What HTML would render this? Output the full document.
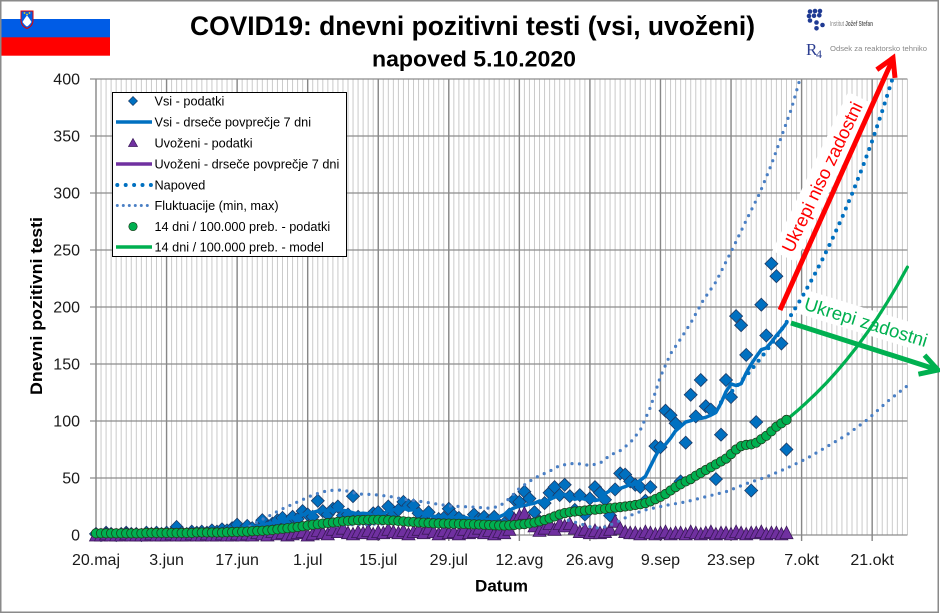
<!DOCTYPE html>
<html><head><meta charset="utf-8"><style>html,body{margin:0;padding:0;background:#fff}svg{display:block}</style></head>
<body>
<svg width="940" height="614" viewBox="0 0 940 614" xmlns="http://www.w3.org/2000/svg" font-family="'Liberation Sans', 'DejaVu Sans', sans-serif">
<defs>
<marker id="mD" markerUnits="userSpaceOnUse" markerWidth="16" markerHeight="16" refX="8" refY="8" overflow="visible"><path d="M8,1.5 L14.5,8 L8,14.5 L1.5,8Z" fill="#0070C0" stroke="#1c3a66" stroke-width="0.8"/></marker>
<marker id="mT" markerUnits="userSpaceOnUse" markerWidth="14" markerHeight="14" refX="7" refY="7" overflow="visible"><path d="M7,0.5 L13.5,13 L0.5,13Z" fill="#7030A0" stroke="#3a1858" stroke-width="0.8"/></marker>
<marker id="mC" markerUnits="userSpaceOnUse" markerWidth="12" markerHeight="12" refX="6" refY="6" overflow="visible"><circle cx="6" cy="6" r="4.7" fill="#00B050" stroke="#1f3f1f" stroke-width="0.8"/></marker>
</defs>
<rect width="940" height="614" fill="#fff"/>

<!-- flag -->
<rect x="1" y="19" width="109" height="18.5" fill="#005CE6"/>
<rect x="1" y="37.3" width="109" height="18.4" fill="#FF0000"/>
<path d="M21,11 L33,11 L33,20 Q33,26 27,28.5 Q21,26 21,20 Z" fill="#005CE6" stroke="#e00000" stroke-width="1"/>
<path d="M22.5,22 L25,18 L27,15.5 L29,18 L31.5,22 Q29,25.5 27,26.5 Q25,25.5 22.5,22Z" fill="#fff"/>
<circle cx="24.5" cy="13" r="0.9" fill="#ffd800"/><circle cx="29.5" cy="13" r="0.9" fill="#ffd800"/><circle cx="27" cy="14.5" r="0.9" fill="#ffd800"/>

<!-- border -->
<rect x="0.75" y="0.75" width="937.5" height="611.5" fill="none" stroke="#8a8a8a" stroke-width="1.5"/>

<!-- titles -->
<text x="472.5" y="35" text-anchor="middle" font-size="27" font-weight="bold" fill="#000" textLength="565" lengthAdjust="spacingAndGlyphs">COVID19: dnevni pozitivni testi (vsi, uvoženi)</text>
<text x="474" y="66.5" text-anchor="middle" font-size="22.5" font-weight="bold" fill="#000" textLength="204" lengthAdjust="spacingAndGlyphs">napoved 5.10.2020</text>

<!-- logos -->
<g fill="#1f3a93">
<circle cx="810" cy="11.5" r="2.3"/><circle cx="815" cy="11" r="2.3"/><circle cx="820" cy="11" r="2.3"/>
<circle cx="809" cy="16" r="2.3"/><circle cx="814" cy="15.7" r="2.3"/><circle cx="819.3" cy="15.3" r="2.3"/>
<circle cx="810" cy="20.5" r="2.3"/><circle cx="816.5" cy="22.5" r="2.3"/><circle cx="822.5" cy="25" r="2.3"/><circle cx="816.5" cy="28.3" r="2.3"/>
</g>
<text x="830" y="26" font-size="7" fill="#888" textLength="43" lengthAdjust="spacingAndGlyphs">Institut <tspan font-weight="bold" fill="#666">Jožef Stefan</tspan></text>
<text x="806" y="55" font-family="'Liberation Serif', serif" font-size="17" fill="#2c3e91">R</text>
<text x="816" y="58" font-family="'Liberation Serif', serif" font-size="12" fill="#2c3e91">4</text>
<text x="830" y="51" font-size="7.5" fill="#888" textLength="97" lengthAdjust="spacingAndGlyphs">Odsek za reaktorsko tehniko</text>

<!-- grid -->
<path fill="none" stroke="#cacaca" stroke-width="1" d="M101.04 79v456
m5.04-456v456m5.04-456v456m5.04-456v456m5.04-456v456m5.04-456v456m5.04-456v456m5.04-456v456m5.04-456v456m5.04-456v456m5.04-456v456
m5.04-456v456m5.04-456v456m5.04-456v456m5.04-456v456m5.04-456v456m5.04-456v456m5.04-456v456m5.04-456v456m5.04-456v456m5.04-456v456
m5.04-456v456m5.04-456v456m5.04-456v456m5.04-456v456m5.04-456v456m5.04-456v456m5.04-456v456m5.04-456v456m5.04-456v456m5.04-456v456
m5.04-456v456m5.04-456v456m5.04-456v456m5.04-456v456m5.04-456v456m5.04-456v456m5.04-456v456m5.04-456v456m5.04-456v456m5.04-456v456
m5.04-456v456m5.04-456v456m5.04-456v456m5.04-456v456m5.04-456v456m5.04-456v456m5.04-456v456m5.04-456v456m5.04-456v456m5.04-456v456
m5.04-456v456m5.04-456v456m5.04-456v456m5.04-456v456m5.04-456v456m5.04-456v456m5.04-456v456m5.04-456v456m5.04-456v456m5.04-456v456
m5.04-456v456m5.04-456v456m5.04-456v456m5.04-456v456m5.04-456v456m5.04-456v456m5.04-456v456m5.04-456v456m5.04-456v456m5.04-456v456
m5.04-456v456m5.04-456v456m5.04-456v456m5.04-456v456m5.04-456v456m5.04-456v456m5.04-456v456m5.04-456v456m5.04-456v456m5.04-456v456
m5.04-456v456m5.04-456v456m5.04-456v456m5.04-456v456m5.04-456v456m5.04-456v456m5.04-456v456m5.04-456v456m5.04-456v456m5.04-456v456
m5.04-456v456m5.04-456v456m5.04-456v456m5.04-456v456m5.04-456v456m5.04-456v456m5.04-456v456m5.04-456v456m5.04-456v456m5.04-456v456
m5.04-456v456m5.04-456v456m5.04-456v456m5.04-456v456m5.04-456v456m5.04-456v456m5.04-456v456m5.04-456v456m5.04-456v456m5.04-456v456
m5.04-456v456m5.04-456v456m5.04-456v456m5.04-456v456m5.04-456v456m5.04-456v456m5.04-456v456m5.04-456v456m5.04-456v456m5.04-456v456
m5.04-456v456m5.04-456v456m5.04-456v456m5.04-456v456m5.04-456v456m5.04-456v456m5.04-456v456m5.04-456v456m5.04-456v456m5.04-456v456
m5.04-456v456m5.04-456v456m5.04-456v456m5.04-456v456m5.04-456v456m5.04-456v456m5.04-456v456m5.04-456v456m5.04-456v456m5.04-456v456
m5.04-456v456m5.04-456v456m5.04-456v456m5.04-456v456m5.04-456v456m5.04-456v456m5.04-456v456m5.04-456v456m5.04-456v456m5.04-456v456
m5.04-456v456m5.04-456v456m5.04-456v456m5.04-456v456m5.04-456v456m5.04-456v456m5.04-456v456m5.04-456v456m5.04-456v456m5.04-456v456"/>
<path fill="none" stroke="#8c8c8c" stroke-width="1.3" d="M90 79H907.4M90 136H907.4M90 193H907.4M90 250H907.4M90 307H907.4M90 364H907.4M90 421H907.4M90 478H907.4M90 535H907.4"/>
<path fill="none" stroke="#878787" stroke-width="1.4" d="M96 79V541M166.56 79V541M237.12 79V541M307.68 79V541M378.24 79V541M448.8 79V541M519.36 79V541M589.92 79V541M660.48 79V541M731.04 79V541M801.6 79V541M872.16 79V541"/>

<!-- white text boxes -->
<rect x="-88" y="-13" width="176" height="26" fill="#fff" transform="translate(822,177) rotate(-64.5)"/>
<rect x="-70" y="-13" width="140" height="25" fill="#fff" transform="translate(866,322) rotate(17.2)"/>

<!-- Vsi podatki diamonds -->
<polyline fill="none" stroke="none" marker-start="url(#mD)" marker-mid="url(#mD)" marker-end="url(#mD)" points="96,533.9 101,535 106.1,532.7 111.1,533.9 116.2,535 121.2,533.9 126.2,532.7 131.3,533.9 136.3,533.9 141.4,535 146.4,532.7 151.4,533.9 156.5,532.7 161.5,533.9 166.6,532.7 171.6,533.9 176.6,527 181.7,532.7 186.7,533.9 191.8,531.6 196.8,532.7 201.8,531.6 206.9,532.7 211.9,530.4 217,531.6 222,529.3 227,530.4 232.1,528.2 237.1,524.7 242.2,530.4 247.2,525.9 252.2,528.2 257.3,529.3 262.3,520.2 267.4,527 272.4,523.6 277.4,520.2 282.5,517.9 287.5,523.6 292.6,516.8 297.6,519 302.6,511.1 307.7,514.5 312.7,516.8 317.8,500.8 322.8,511.1 327.8,514.5 332.9,508.8 337.9,506.5 343,515.6 348,514.5 353,496.2 358.1,516.8 363.1,519 368.2,521.3 373.2,513.3 378.2,512.2 383.3,517.9 388.3,506.5 393.4,514.5 398.4,509.9 403.4,501.9 408.5,505.4 413.5,505.4 418.6,513.3 423.6,520.2 428.6,512.2 433.7,522.5 438.7,519 443.8,517.9 448.8,508.8 453.8,515.6 458.9,517.9 463.9,521.3 469,523.6 474,514.5 479,519 484.1,516.8 489.1,521.3 494.2,516.8 499.2,524.7 504.2,523.6 509.3,514.5 514.3,499.7 519.4,501.9 524.4,491.7 529.4,498.5 534.5,512.2 539.5,521.3 544.6,503.1 549.6,492.8 554.6,487.1 559.7,495.1 564.7,484.8 569.8,496.2 574.8,509.9 579.8,495.1 584.9,514.5 589.9,498.5 595,487.1 600,492.8 605,499.7 610.1,515.6 615.1,489.4 620.2,473.4 625.2,474.6 630.2,481.4 635.3,484.8 640.3,487.1 645.4,500.8 650.4,487.1 655.4,446.1 660.5,447.2 665.5,410.7 670.6,415.3 675.6,423.3 680.6,481.4 685.7,442.7 690.7,394.8 695.8,416.4 700.8,380 705.8,406.2 710.9,409.6 715.9,479.1 721,434.7 726,380 731,397.1 736.1,316.1 741.1,325.2 746.2,354.9 751.2,490.5 756.2,422.1 761.3,304.7 766.3,335.5 771.4,263.7 776.4,276.2 781.4,343.5 786.5,449.5"/>

<!-- Vsi 7-day avg -->
<polyline fill="none" stroke="#0070C0" stroke-width="3.5" stroke-linejoin="round" stroke-linecap="round" points="96,534 101,534 106.1,534 111.1,533.9 116.2,533.9 121.2,533.7 126.2,534 131.3,533.9 136.3,533.7 141.4,533.5 146.4,533.7 151.4,533.5 156.5,533.5 161.5,532.4 166.6,532.4 171.6,532.4 176.6,532.2 181.7,532.1 186.7,531.9 191.8,531.7 196.8,532.2 201.8,532.1 206.9,531.4 211.9,531.3 217,530.6 222,529.6 227,529.3 232.1,528.6 237.1,528.2 242.2,528.2 247.2,526.7 252.2,526.5 257.3,526.4 262.3,524.9 267.4,523.8 272.4,523.1 277.4,521.3 282.5,521.2 287.5,518.9 292.6,517.6 297.6,517.1 302.6,514.6 307.7,512.9 312.7,512.5 317.8,511.1 322.8,510.4 327.8,510.6 332.9,510.2 337.9,509.6 343,510.4 348,511.1 353,512.9 358.1,513.8 363.1,513.3 368.2,513.8 373.2,515.3 378.2,515 383.3,513.7 388.3,510.9 393.4,509.8 398.4,508.8 403.4,508.1 408.5,510.1 413.5,509.8 418.6,511.5 423.6,514 428.6,515.8 433.7,516.3 438.7,516.6 443.8,516.3 448.8,517.6 453.8,517.7 458.9,517.1 463.9,517.2 469,518.4 474,519.2 479,519 484.1,519.5 489.1,519.5 494.2,519.5 499.2,516.8 504.2,514.6 509.3,510.4 514.3,507.8 519.4,506 524.4,505.7 529.4,504.1 534.5,503.1 539.5,501 544.6,501.5 549.6,499.5 554.6,497.2 559.7,495.6 564.7,494.4 569.8,497.5 574.8,499.2 579.8,498 584.9,499.2 589.9,499.7 595,500.5 600,499.7 605,493.8 610.1,490.4 615.1,489.6 620.2,488.4 625.2,486.6 630.2,484.5 635.3,484.2 640.3,480.3 645.4,476.4 650.4,466.3 655.4,456.3 660.5,447.2 665.5,444.4 670.6,438.1 675.6,430.8 680.6,426.4 685.7,422 690.7,420.7 695.8,418.7 700.8,418.4 705.8,417.3 710.9,415.1 715.9,412.4 721,403.2 726,391.7 731,383.9 736.1,385.5 741.1,383.7 746.2,373 751.2,364.2 756.2,356.7 761.3,349.7 766.3,348 771.4,342.2 776.4,335.5 781.4,329.8 786.5,323"/>

<!-- Uvozeni triangles -->
<polyline fill="none" stroke="none" marker-start="url(#mT)" marker-mid="url(#mT)" marker-end="url(#mT)" points="96,535 101,535 106.1,533.9 111.1,535 116.2,535 121.2,535 126.2,533.9 131.3,535 136.3,535 141.4,535 146.4,535 151.4,533.9 156.5,535 161.5,535 166.6,535 171.6,533.9 176.6,535 181.7,535 186.7,535 191.8,533.9 196.8,535 201.8,535 206.9,533.9 211.9,535 217,535 222,533.9 227,535 232.1,535 237.1,533.9 242.2,535 247.2,533.9 252.2,535 257.3,532.7 262.3,533.9 267.4,535 272.4,531.6 277.4,533.9 282.5,532.7 287.5,535 292.6,533.9 297.6,532.7 302.6,531.6 307.7,535 312.7,533.9 317.8,530.4 322.8,532.7 327.8,533.9 332.9,529.3 337.9,531.6 343,528.2 348,532.7 353,533.9 358.1,531.6 363.1,532.7 368.2,530.4 373.2,533.9 378.2,531.6 383.3,532.7 388.3,529.3 393.4,531.6 398.4,532.7 403.4,530.4 408.5,533.9 413.5,531.6 418.6,529.3 423.6,532.7 428.6,528.2 433.7,531.6 438.7,533.9 443.8,530.4 448.8,532.7 453.8,531.6 458.9,533.9 463.9,529.3 469,532.7 474,531.6 479,528.2 484.1,532.7 489.1,530.4 494.2,533.9 499.2,531.6 504.2,532.7 509.3,529.3 514.3,519 519.4,515.6 524.4,513.3 529.4,521.3 534.5,525.9 539.5,530.4 544.6,528.2 549.6,523.6 554.6,529.3 559.7,523.6 564.7,525.9 569.8,523.6 574.8,528.2 579.8,531.6 584.9,529.3 589.9,532.7 595,530.4 600,532.7 605,531.6 610.1,529.3 615.1,521.3 620.2,528.2 625.2,531.6 630.2,532.7 635.3,532.7 640.3,533.9 645.4,531.6 650.4,532.7 655.4,533.9 660.5,532.7 665.5,531.6 670.6,533.9 675.6,532.7 680.6,532.7 685.7,533.9 690.7,531.6 695.8,532.7 700.8,533.9 705.8,532.7 710.9,531.6 715.9,533.9 721,532.7 726,532.7 731,533.9 736.1,531.6 741.1,532.7 746.2,533.9 751.2,532.7 756.2,532.7 761.3,531.6 766.3,533.9 771.4,532.7 776.4,532.7 781.4,533.9 786.5,532.7"/>

<!-- Napoved -->
<polyline fill="none" stroke="#0070C0" stroke-width="4" stroke-linecap="round" stroke-dasharray="0 8" points="721,402.2 731,392.3 741.1,381.5 751.2,369.9 761.3,357.5 771.4,344.2 786.5,322.3 791.5,314.4 801.6,297.8 811.7,279.9 821.8,260.7 831.8,240.1 841.9,218 852,194 862.1,168.4 872.2,140.8 882.2,111.2 892.3,79.3"/>

<!-- Fluktuacije -->
<polyline fill="none" stroke="#4a7fc4" stroke-width="3.2" stroke-linecap="round" stroke-dasharray="0 7.5" points="237.1,533.9 252.2,524.7 267.4,516.8 282.5,508.8 297.6,501.9 312.7,495.1 327.8,490.5 343,490 358.1,494 373.2,494.5 388.3,496.2 403.4,499.1 423.6,501.9 448.8,505.9 474,507.1 489.1,508.2 499.2,506.5 509.3,498.5 519.4,488.3 534.5,478 549.6,471.2 559.7,465.5 574.8,463.2 589.9,465.5 600,463.2 610.1,455.2 620.2,450.6 630.2,442.7 640.3,430.1 650.4,407.3 660.5,376.5 670.6,353.7 680.6,338.9 690.7,323 703.3,300.2 715.9,281.9 733.6,246.6 746.2,220.4 759.8,193 771.4,164.5 780,140.6 791.5,108.6 798.6,83.6 800.1,79"/>
<polyline fill="none" stroke="#4a7fc4" stroke-width="3.2" stroke-linecap="round" stroke-dasharray="0 7.5" points="247.2,533.9 297.6,529.3 348,524.7 398.4,523.6 448.8,524.7 499.2,525.9 539.5,521.3 559.7,517.9 579.8,523.6 595,528.2 605,527 615.1,523 625.2,517.9 635.3,513.3 645.4,509.9 665.5,505.4 685.7,501.9 705.8,496.7 726,491.7 746.2,483.7 766.3,476.9 786.5,468.3 806.6,458.6 826.8,446.7 847,434.7 867.1,419.9 887.3,401.6 907.4,385.7"/>

<!-- 14 dni model continuation -->
<polyline fill="none" stroke="#00B050" stroke-width="3.2" stroke-linejoin="round" stroke-linecap="round" points="786.5,419.9 796.6,411.4 806.6,402.4 816.7,392.8 826.8,382.5 836.9,371.3 847,359.3 857,346.6 867.1,332.8 877.2,318.1 887.3,302.2 897.4,285.2 907.4,267.1"/>
<!-- 14 dni data circles (with model line underneath) -->
<polyline fill="none" stroke="#00B050" stroke-width="3" marker-start="url(#mC)" marker-mid="url(#mC)" marker-end="url(#mC)" points="96,533.3 101,533.3 106.1,533.3 111.1,533.3 116.2,533.3 121.2,533.3 126.2,533.3 131.3,533.3 136.3,533.3 141.4,533.3 146.4,532.9 151.4,532.9 156.5,532.9 161.5,532.9 166.6,532.9 171.6,532.9 176.6,532.9 181.7,532.9 186.7,532.9 191.8,532.9 196.8,532.5 201.8,532.5 206.9,532.5 211.9,532.5 217,532.5 222,532.5 227,532.2 232.1,532 237.1,531.9 242.2,531.7 247.2,531.6 252.2,531.2 257.3,530.9 262.3,530.7 267.4,530.4 272.4,529.9 277.4,529.3 282.5,528.7 287.5,528.2 292.6,527.6 297.6,527 302.6,526.2 307.7,525.5 312.7,524.7 317.8,524.2 322.8,523.6 327.8,523 332.9,522.5 337.9,521.9 343,521.3 348,520.9 353,520.5 358.1,520.2 363.1,520 368.2,519.8 373.2,519.8 378.2,519.8 383.3,520 388.3,520.2 393.4,520.5 398.4,520.9 403.4,521.3 408.5,521.7 413.5,522 418.6,522.5 423.6,522.7 428.6,523 433.7,523.3 438.7,523.4 443.8,523.5 448.8,523.6 453.8,523.7 458.9,523.8 463.9,523.9 469,524.1 474,524.3 479,524.5 484.1,524.7 489.1,525 494.2,525.2 499.2,525.4 504.2,525.5 509.3,525.3 514.3,525 519.4,524.5 524.4,524.1 529.4,523.4 534.5,522.5 539.5,521.3 544.6,520 549.6,518.4 554.6,516.4 559.7,514.5 564.7,513.1 569.8,512.2 574.8,511.5 579.8,511.1 584.9,510.5 589.9,509.9 595,509.6 600,509.2 605,508.8 610.1,508.2 615.1,507.6 620.2,507.1 625.2,506.5 630.2,505.8 635.3,505 640.3,504.2 645.4,503.1 650.4,501.4 655.4,499.1 660.5,496.8 665.5,494 670.6,490.5 675.6,487.1 680.6,484.3 685.7,481.4 690.7,479.1 695.8,475.7 700.8,472.9 705.8,470 710.9,467.2 715.9,464.3 721,461.5 726,458.6 731,454.1 736.1,449.5 741.1,446.1 746.2,444.9 751.2,444.4 756.2,442.7 761.3,439.2 766.3,435.8 771.4,431.3 776.4,426.7 781.4,423.3 786.5,419.9"/>

<!-- arrows -->
<g stroke="#FF0000" stroke-width="5" fill="none" stroke-linecap="butt">
<line x1="780" y1="310" x2="892" y2="61"/>
<polyline points="876.8,69.7 893,58 895,77.9" stroke-linejoin="miter"/>
</g>
<g stroke="#00B050" stroke-width="5" fill="none">
<line x1="791" y1="323" x2="935" y2="369"/>
<polyline points="924.5,355.2 938,370 918.4,374.2" stroke-linejoin="miter"/>
</g>
<text transform="translate(822,177) rotate(-64.5)" x="0" y="6.5" text-anchor="middle" font-size="18.5" fill="#FF0000" textLength="164" lengthAdjust="spacingAndGlyphs">Ukrepi niso zadostni</text>
<text transform="translate(866,322) rotate(17.2)" x="0" y="6.5" text-anchor="middle" font-size="18.5" fill="#00B050" textLength="128" lengthAdjust="spacingAndGlyphs">Ukrepi zadostni</text>

<!-- legend -->
<rect x="112.5" y="92.5" width="234" height="164" fill="#fff" stroke="#000" stroke-width="1"/>
<path d="M133,96.5 L137.5,101 L133,105.5 L128.5,101Z" fill="#0070C0" stroke="#1c3a66" stroke-width="0.7"/>
<line x1="116" y1="122" x2="152" y2="122" stroke="#0070C0" stroke-width="3.5"/>
<path d="M133,138.5 L137.5,146.5 L128.5,146.5Z" fill="#7030A0" stroke="#3a1858" stroke-width="0.7"/>
<line x1="116" y1="164" x2="152" y2="164" stroke="#7030A0" stroke-width="3.5"/>
<line x1="117.3" y1="185" x2="152" y2="185" stroke="#0070C0" stroke-width="4" stroke-linecap="round" stroke-dasharray="0 8.4"/>
<line x1="117.3" y1="205.5" x2="152" y2="205.5" stroke="#4a7fc4" stroke-width="3" stroke-linecap="round" stroke-dasharray="0 6"/>
<circle cx="133" cy="226.5" r="4.2" fill="#00B050" stroke="#1f3f1f" stroke-width="0.7"/>
<line x1="116" y1="247" x2="152" y2="247" stroke="#00B050" stroke-width="3.5"/>
<g font-size="12.7" fill="#000">
<text x="154.5" y="105.5">Vsi - podatki</text>
<text x="154.5" y="126.5">Vsi - drseče povprečje 7 dni</text>
<text x="154.5" y="147.5">Uvoženi - podatki</text>
<text x="154.5" y="168.5">Uvoženi - drseče povprečje 7 dni</text>
<text x="154.5" y="189.5">Napoved</text>
<text x="154.5" y="210">Fluktuacije (min, max)</text>
<text x="154.5" y="231">14 dni / 100.000 preb. - podatki</text>
<text x="154.5" y="251.5">14 dni / 100.000 preb. - model</text>
</g>

<!-- y axis labels -->
<g font-size="16" fill="#1a1a1a" text-anchor="end">
<text x="80" y="84.5">400</text>
<text x="80" y="141.5">350</text>
<text x="80" y="198.5">300</text>
<text x="80" y="255.5">250</text>
<text x="80" y="312.5">200</text>
<text x="80" y="369.5">150</text>
<text x="80" y="426.5">100</text>
<text x="80" y="483.5">50</text>
<text x="80" y="540.5">0</text>
</g>
<!-- x axis labels -->
<g font-size="16" fill="#1a1a1a" text-anchor="middle">
<text x="96" y="565">20.maj</text>
<text x="166.6" y="565">3.jun</text>
<text x="237.1" y="565">17.jun</text>
<text x="307.7" y="565">1.jul</text>
<text x="378.2" y="565">15.jul</text>
<text x="448.8" y="565">29.jul</text>
<text x="519.4" y="565">12.avg</text>
<text x="589.9" y="565">26.avg</text>
<text x="660.5" y="565">9.sep</text>
<text x="731" y="565">23.sep</text>
<text x="801.6" y="565">7.okt</text>
<text x="872.2" y="565">21.okt</text>
</g>
<text x="501.5" y="591.5" text-anchor="middle" font-size="17" font-weight="bold" fill="#000">Datum</text>
<text transform="translate(42,306) rotate(-90)" x="0" y="0" text-anchor="middle" font-size="17" font-weight="bold" fill="#000" textLength="178" lengthAdjust="spacingAndGlyphs">Dnevni pozitivni  testi</text>
</svg>
</body></html>
